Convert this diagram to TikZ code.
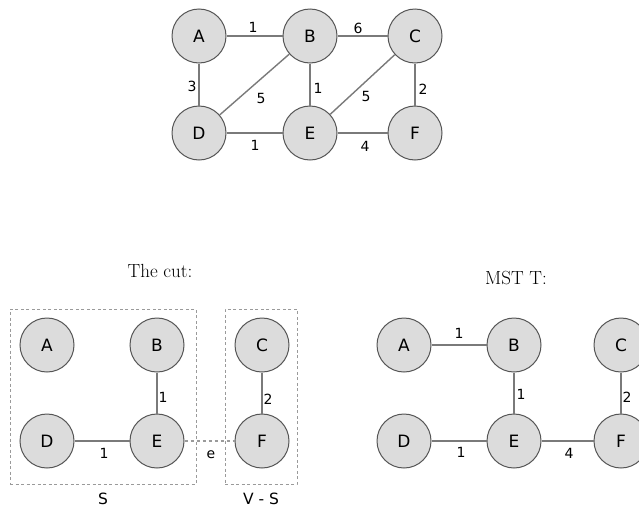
\documentclass[tikz,border=0pt]{standalone}
\usepackage{fontspec}
\newfontfamily\nodefont{DejaVu Sans}
\definecolor{nodefill}{HTML}{DCDCDC}
\definecolor{nodeline}{HTML}{555555}
\definecolor{edgecol}{HTML}{7A7A7A}
\definecolor{boxcol}{HTML}{9A9A9A}
\begin{document}
\begin{tikzpicture}[x=1pt,y=-1pt,
  vert/.style={circle,draw=nodeline,fill=nodefill,line width=1pt,minimum size=54pt,inner sep=0pt,font=\nodefont\fontsize{17}{17}\selectfont},
  edge/.style={draw=edgecol,line width=1.4pt},
  cutedge/.style={draw=boxcol,line width=1.2pt,dash pattern=on 3pt off 3pt},
  wlab/.style={font=\nodefont\fontsize{14}{14}\selectfont,inner sep=1pt},
  setlab/.style={font=\nodefont\fontsize{15.5}{15.5}\selectfont,inner sep=1pt},
  cutbox/.style={draw=boxcol,line width=0.9pt,dash pattern=on 3pt off 2.5pt},
  title/.style={font=\fontsize{19}{19}\selectfont}]
\useasboundingbox (0,0) rectangle (639,509);
% top graph
\node[vert] (A) at (199,36) {A};
\node[vert] (B) at (310,36) {B};
\node[vert] (C) at (415,36) {C};
\node[vert] (D) at (199,133) {D};
\node[vert] (E) at (310,133) {E};
\node[vert] (F) at (415,133) {F};
\draw[edge] (A) -- (B);
\draw[edge] (B) -- (C);
\draw[edge] (A) -- (D);
\draw[edge] (B) -- (D);
\draw[edge] (B) -- (E);
\draw[edge] (C) -- (E);
\draw[edge] (C) -- (F);
\draw[edge] (D) -- (E);
\draw[edge] (E) -- (F);
\node[wlab] (lab1) at (253,27) {1};
\node[wlab] (lab2) at (358,28) {6};
\node[wlab] (lab3) at (192,86) {3};
\node[wlab] (lab4) at (261,98) {5};
\node[wlab] (lab5) at (318,88) {1};
\node[wlab] (lab6) at (366,96) {5};
\node[wlab] (lab7) at (423,89) {2};
\node[wlab] (lab8) at (255,145) {1};
\node[wlab] (lab9) at (365,146) {4};
% the cut
\node[title] (t1) at (160,271) {The cut:};
\node[cutbox,minimum width=186pt,minimum height=175pt,inner sep=0pt] (S) at (103,396.5) {};
\node[cutbox,minimum width=72pt,minimum height=175pt,inner sep=0pt] (VS) at (261,396.5) {};
\node[vert] (cA) at (47,345) {A};
\node[vert] (cB) at (157,345) {B};
\node[vert] (cC) at (262,345) {C};
\node[vert] (cD) at (47,441) {D};
\node[vert] (cE) at (157,441) {E};
\node[vert] (cF) at (262,441) {F};
\draw[edge] (cB) -- (cE);
\draw[edge] (cC) -- (cF);
\draw[edge] (cD) -- (cE);
\draw[cutedge] (cE) -- (cF);
\node[wlab] (cl1) at (163,397) {1};
\node[wlab] (cl2) at (268,399) {2};
\node[wlab] (cl3) at (104,453) {1};
\node[wlab] (cl4) at (211,455) {e};
\node[setlab] (sl) at (103,499) {S};
\node[setlab] (vsl) at (261,499) {V - S};
% MST
\node[title] (t2) at (516,278) {MST T:};
\node[vert] (mA) at (404,345) {A};
\node[vert] (mB) at (514,345) {B};
\node[vert] (mC) at (621,345) {C};
\node[vert] (mD) at (404,441) {D};
\node[vert] (mE) at (514,441) {E};
\node[vert] (mF) at (621,441) {F};
\draw[edge] (mA) -- (mB);
\draw[edge] (mB) -- (mE);
\draw[edge] (mC) -- (mF);
\draw[edge] (mD) -- (mE);
\draw[edge] (mE) -- (mF);
\node[wlab] (ml1) at (459,333) {1};
\node[wlab] (ml2) at (521,394) {1};
\node[wlab] (ml3) at (627,397) {2};
\node[wlab] (ml4) at (461,452) {1};
\node[wlab] (ml5) at (569,453) {4};
\end{tikzpicture}
\end{document}
